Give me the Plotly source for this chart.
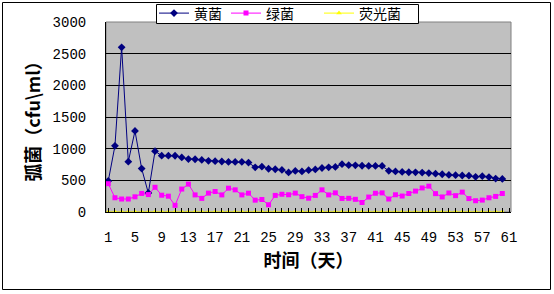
import plotly.graph_objects as go

days = list(range(1, 61))
tick_days = [1, 5, 9, 13, 17, 21, 25, 29, 33, 37, 41, 45, 49, 53, 57, 61]
y_ticks = [0, 500, 1000, 1500, 2000, 2500, 3000]

yellow_bac = [490, 1045, 2600, 795, 1280, 685, 300, 960, 890, 890,
              888, 862, 836, 833, 822, 808, 803, 797, 790, 790,
              790, 780, 705, 715, 683, 675, 665, 625, 648, 640,
              660, 672, 695, 705, 712, 755, 740, 737, 730, 727,
              727, 727, 650, 640, 632, 628, 626, 622, 615, 605,
              596, 586, 582, 576, 574, 556, 565, 552, 528, 522]
green_bac = [447, 225, 205, 205, 240, 293, 275, 390, 265, 250,
             105, 362, 440, 270, 215, 298, 324, 270, 376, 350,
             270, 297, 187, 197, 114, 262, 280, 272, 298, 242,
             218, 262, 350, 270, 302, 214, 216, 200, 150, 236,
             296, 302, 205, 272, 252, 292, 330, 380, 408, 290,
             238, 300, 258, 314, 212, 178, 188, 225, 246, 292]
fluor_bac = [0, 0, 0, 0, 0, 0, 0, 0, 0, 0,
             0, 0, 0, 0, 0, 0, 0, 0, 0, 0,
             0, 0, 0, 0, 0, 0, 0, 0, 0, 0,
             0, 0, 0, 0, 0, 0, 0, 0, 0, 0,
             0, 0, 0, 0, 0, 0, 0, 0, 0, 0,
             0, 0, 0, 0, 0, 0, 0, 0, 0, 0]

names = ["黄菌", "绿菌", "荧光菌"]

CJK = "Noto Sans CJK SC"
NUM = "Liberation Mono"

L, R, T, B = 106, 43, 22, 82
W, H = 554, 294
pw = W - L - R
ph = H - T - B


def px_x(px):
    return (px - L) / pw


def px_y(py):
    return (H - B - py) / ph


fig = go.Figure()
fig.add_trace(go.Scatter(x=days, y=yellow_bac, name=names[0], mode="lines+markers",
                         legend="legend",
                         line=dict(color="#000080", width=1),
                         marker=dict(symbol="diamond", size=6, color="#000080")))
fig.add_trace(go.Scatter(x=days, y=green_bac, name=names[1], mode="lines+markers",
                         legend="legend2",
                         line=dict(color="#FF00FF", width=1),
                         marker=dict(symbol="square", size=5, color="#FF00FF")))
fig.add_trace(go.Scatter(x=days, y=fluor_bac, name=names[2], mode="lines+markers",
                         legend="legend3",
                         line=dict(color="#FFFF00", width=1),
                         marker=dict(symbol="triangle-up", size=5, color="#FFFF00")))

leg_common = dict(orientation="h", xanchor="left", yanchor="top",
                  bgcolor="rgba(0,0,0,0)", borderwidth=0,
                  font=dict(family=CJK, size=14, color="black"),
                  itemwidth=30)
legend_text_px = [198, 270, 363]
leg_top = -2.5

fig.update_layout(
    width=W, height=H,
    margin=dict(l=L, r=R, t=T, b=B, pad=0, autoexpand=False),
    paper_bgcolor="white",
    plot_bgcolor="#C0C0C0",
    showlegend=True,
    legend=dict(x=px_x(legend_text_px[0] - 44), y=px_y(leg_top), **leg_common),
    legend2=dict(x=px_x(legend_text_px[1] - 44), y=px_y(leg_top), **leg_common),
    legend3=dict(x=px_x(legend_text_px[2] - 44), y=px_y(leg_top), **leg_common),
    xaxis=dict(range=[0.66, 61.3], tickmode="array", tickvals=tick_days,
               ticktext=[str(v) for v in tick_days],
               showgrid=False, zeroline=False,
               showline=True, linecolor="black", linewidth=1,
               ticks="inside", ticklen=4, tickcolor="black",
               minor=dict(ticks="inside", ticklen=4, tickcolor="black", dtick=1, tick0=1, showgrid=False),
               ticklabelstandoff=12,
               tickfont=dict(family=NUM, size=14, color="black"),
               title=dict(text="<b>时间（天）</b>", font=dict(family=CJK, size=18, color="black"), standoff=3)),
    yaxis=dict(range=[0, 3000], tickmode="array", tickvals=y_ticks,
               showgrid=True, gridcolor="black", gridwidth=1, zeroline=False,
               showline=True, linecolor="black", linewidth=1,
               ticks="", ticklabelstandoff=16,
               tickfont=dict(family=NUM, size=14, color="black"),
               title=dict(text="<b>弧菌（cfu\\ml）</b>", font=dict(family=CJK, size=18, color="black"), standoff=7)),
    shapes=[
        dict(type="rect", xref="paper", yref="paper", x0=0, x1=1, y0=0, y1=1,
             line=dict(color="#808080", width=1), fillcolor="rgba(0,0,0,0)", layer="below"),
        dict(type="rect", xref="paper", yref="paper",
             x0=px_x(156.5), x1=px_x(418.5), y0=px_y(23.5), y1=px_y(4.5),
             line=dict(color="black", width=1), fillcolor="white", layer="above"),
        dict(type="rect", xref="paper", yref="paper",
             x0=px_x(2.5), x1=px_x(550.5), y0=px_y(289.5), y1=px_y(2.5),
             line=dict(color="black", width=1), fillcolor="rgba(0,0,0,0)"),
    ],
)

fig.write_html("out.html")
